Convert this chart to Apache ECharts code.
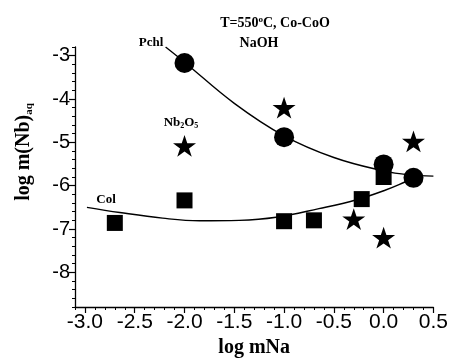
<!DOCTYPE html>
<html><head><meta charset="utf-8">
<script src="https://cdn.jsdelivr.net/npm/echarts@6/dist/echarts.min.js"></script>
<style>html,body{margin:0;padding:0;background:#fff}#c{width:451px;height:363px}</style>
</head><body><div id="c"></div><script>
// Pchl (circles)
const pchlX=[-2,-1,0,0.3];
const pchlY=[-3.17,-4.88,-5.51,-5.82];
// Col (squares)
const colX=[-2.7,-2,-1,-0.7,-0.22,0];
const colY=[-6.86,-6.34,-6.82,-6.8,-6.31,-5.8];
// Nb2O5 (stars)
const nbX=[-2,-1,0.3,-0.3,0];
const nbY=[-5.08,-4.2,-4.98,-6.77,-7.2];
// fitted curves
const pchlFitX=[-2.19,-2.0,-1.5,-1.0,-0.5,0,0.25,0.5];
const pchlFitY=[-2.8,-3.15,-4.1,-4.85,-5.35,-5.66,-5.75,-5.78];
const colFitX=[-2.98,-2.65,-2.22,-1.85,-1.45,-1.08,-0.65,-0.28,0.02,0.22,0.3];
const colFitY=[-6.50,-6.62,-6.75,-6.81,-6.80,-6.73,-6.53,-6.33,-6.10,-5.91,-5.83];
// ticks
const xTickValues=[-3,-2.5,-2,-1.5,-1,-0.5,0,0.5];
const xTickLabels=['-3.0','-2.5','-2.0','-1.5','-1.0','-0.5','0.0','0.5'];
const yTickValues=[-8,-7,-6,-5,-4,-3];
const yTickLabels=['-8','-7','-6','-5','-4','-3'];

function lookup(vals,labs,v){for(let i=0;i<vals.length;i++){if(Math.abs(vals[i]-v)<1e-6)return labs[i];}return '';}
const pair=(xs,ys)=>xs.map((x,i)=>[x,ys[i]]);
const STAR='path://M50,0 L61.8,35.1 L98.9,35.1 L69.1,57.3 L80.9,92.7 L50,70.9 L19.1,92.7 L30.9,57.3 L1.1,35.1 L38.2,35.1 Z';
const SERIF='Liberation Serif';
const SANS='Liberation Sans';

const chart=echarts.init(document.getElementById('c'),null,{renderer:'canvas'});
const axLine={onZero:false,lineStyle:{color:'#000',width:1.3}};
chart.setOption({
  animation:false,
  backgroundColor:'#fff',
  grid:{left:75,right:16,top:47,bottom:53},
  xAxis:[
    {type:'value',min:-3.1,max:0.5,interval:0.1,
     axisLine:axLine,splitLine:{show:false},
     axisTick:{length:3,lineStyle:{color:'#000',width:1}},
     axisLabel:{customValues:xTickValues,formatter:v=>lookup(xTickValues,xTickLabels,v),
       color:'#000',fontSize:21,fontFamily:SANS,margin:5},
     name:'log mNa',nameLocation:'middle',nameGap:31,
     nameTextStyle:{fontFamily:SERIF,fontWeight:'bold',fontSize:20,color:'#000'}},
    {type:'value',min:-3.1,max:0.5,position:'bottom',
     axisLine:{show:false,onZero:false},splitLine:{show:false},axisLabel:{show:false},
     axisTick:{customValues:xTickValues,length:6,lineStyle:{color:'#000',width:1.2}}}
  ],
  yAxis:[
    {type:'value',min:-8.8,max:-2.8,interval:0.2,
     axisLine:axLine,splitLine:{show:false},
     axisTick:{length:3,lineStyle:{color:'#000',width:1}},
     axisLabel:{customValues:yTickValues,formatter:v=>lookup(yTickValues,yTickLabels,v),
       color:'#000',fontSize:20,fontFamily:SANS,margin:5}},
    {type:'value',min:-8.8,max:-2.8,position:'left',
     axisLine:{show:false,onZero:false},splitLine:{show:false},axisLabel:{show:false},
     axisTick:{customValues:yTickValues,length:6,lineStyle:{color:'#000',width:1.2}}}
  ],
  series:[
    {type:'line',data:pair(pchlFitX,pchlFitY),smooth:0.4,showSymbol:false,symbol:'none',
     lineStyle:{color:'#000',width:1.4},z:2},
    {type:'line',data:pair(colFitX,colFitY),smooth:0.4,showSymbol:false,symbol:'none',
     lineStyle:{color:'#000',width:1.4},z:2},
    {type:'scatter',data:pair(pchlX,pchlY),symbol:'circle',symbolSize:20,
     itemStyle:{color:'#000',opacity:1},z:3},
    {type:'scatter',data:pair(colX,colY),symbol:'rect',symbolSize:16,
     itemStyle:{color:'#000',opacity:1},z:3},
    {type:'scatter',data:pair(nbX,nbY),symbol:STAR,symbolKeepAspect:true,symbolSize:23,
     itemStyle:{color:'#000',opacity:1},z:3}
  ],
  graphic:[
    {type:'text',x:275,y:23,style:{text:'{t|T=550}{sup|o}{t|C, Co-CoO}',align:'center',verticalAlign:'middle',
      rich:{t:{fontFamily:SERIF,fontWeight:'bold',fontSize:14,fill:'#000'},
            sup:{fontFamily:SERIF,fontWeight:'bold',fontSize:9,fill:'#000',verticalAlign:'top',padding:[0,0,6,0]}}}},
    {type:'text',x:259,y:43,style:{text:'NaOH',align:'center',verticalAlign:'middle',
      fontFamily:SERIF,fontWeight:'bold',fontSize:14,fill:'#000'}},
    {type:'text',x:151,y:43,style:{text:'Pchl',align:'center',verticalAlign:'middle',
      fontFamily:SERIF,fontWeight:'bold',fontSize:13,fill:'#000'}},
    {type:'text',x:181,y:123,style:{text:'{t|Nb}{s|2}{t|O}{s|5}',align:'center',verticalAlign:'middle',
      rich:{t:{fontFamily:SERIF,fontWeight:'bold',fontSize:13,fill:'#000'},
            s:{fontFamily:SERIF,fontWeight:'bold',fontSize:8,fill:'#000',verticalAlign:'bottom'}}}},
    {type:'text',x:106,y:200,style:{text:'Col',align:'center',verticalAlign:'middle',
      fontFamily:SERIF,fontWeight:'bold',fontSize:13,fill:'#000'}},
    {type:'text',x:24,y:152,rotation:Math.PI/2,style:{text:'{t|log m(Nb)}{s|aq}',align:'center',verticalAlign:'middle',
      rich:{t:{fontFamily:SERIF,fontWeight:'bold',fontSize:20,fill:'#000'},
            s:{fontFamily:SERIF,fontWeight:'bold',fontSize:11,fill:'#000',verticalAlign:'bottom',padding:[10,0,0,0]}}}}
  ]
});
</script></body></html>
